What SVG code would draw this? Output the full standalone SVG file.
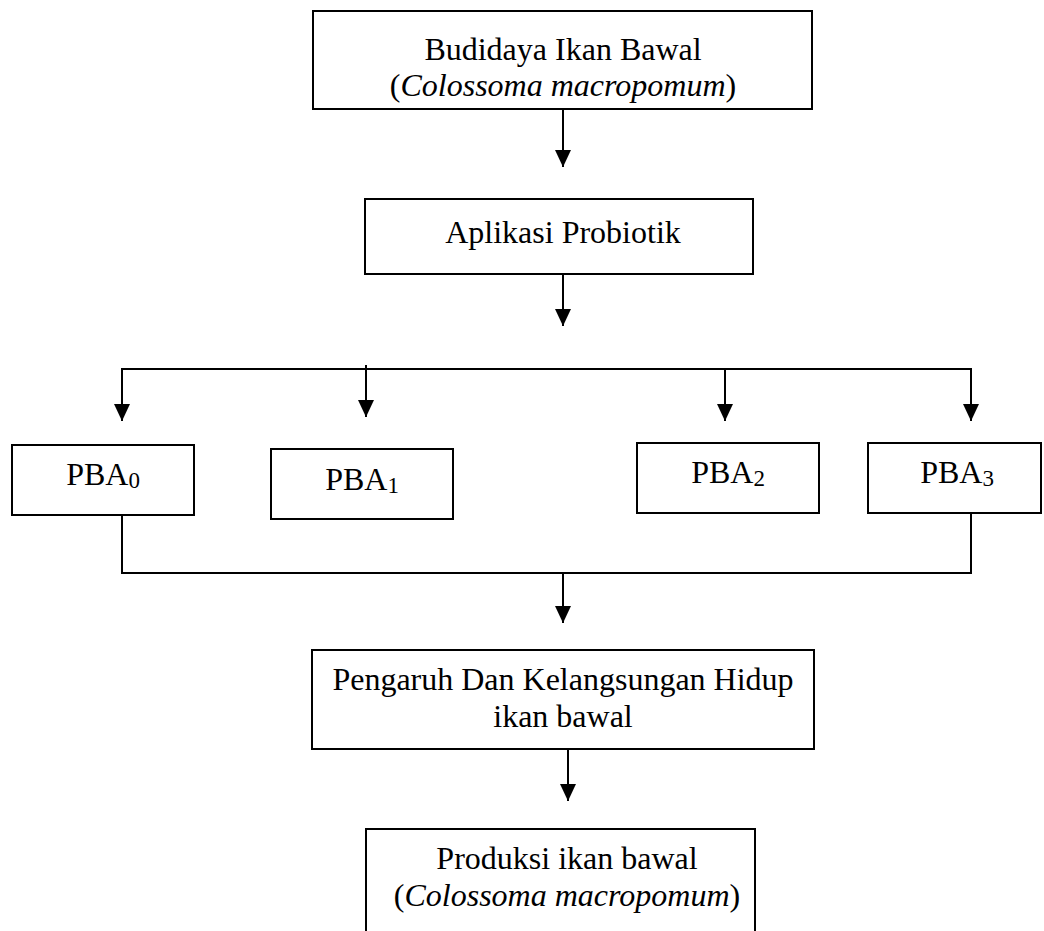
<svg xmlns="http://www.w3.org/2000/svg" width="1044" height="931" viewBox="0 0 1044 931">
<style>
.box{fill:#fff;stroke:#000;stroke-width:2}
.ln{fill:none;stroke:#000;stroke-width:2}
.t{font-family:"Liberation Serif","Times New Roman",serif;font-size:32px;fill:#000;text-anchor:middle}
.i{font-style:italic}
.sub{font-size:23px}
</style>
<defs>
<marker id="ah" markerUnits="userSpaceOnUse" markerWidth="17" markerHeight="16" viewBox="0 0 17 16" refX="17" refY="8" orient="auto">
<path d="M0,0 L17,8 L0,16 z" fill="#000"/>
</marker>
</defs>
<rect width="1044" height="931" fill="#fff"/>
<g id="connectors">
<line class="ln" x1="563" y1="110" x2="563" y2="167" marker-end="url(#ah)"/>
<line class="ln" x1="563" y1="274" x2="563" y2="326" marker-end="url(#ah)"/>
<line class="ln" x1="121" y1="369" x2="972" y2="369"/>
<line class="ln" x1="122" y1="369" x2="122" y2="421" marker-end="url(#ah)"/>
<line class="ln" x1="366" y1="365" x2="366" y2="417" marker-end="url(#ah)"/>
<line class="ln" x1="725" y1="369" x2="725" y2="421" marker-end="url(#ah)"/>
<line class="ln" x1="971" y1="369" x2="971" y2="421" marker-end="url(#ah)"/>
<path class="ln" d="M122,513 V573 H971 V513"/>
<line class="ln" x1="563" y1="573" x2="563" y2="623" marker-end="url(#ah)"/>
<line class="ln" x1="568" y1="749" x2="568" y2="801" marker-end="url(#ah)"/>
</g>
<g id="budidaya">
<rect class="box" x="313" y="11" width="499" height="98"/>
<text class="t" x="563" y="60">Budidaya Ikan Bawal</text>
<text class="t" x="563" y="96">(<tspan class="i">Colossoma macropomum</tspan>)</text>
</g>
<g id="aplikasi">
<rect class="box" x="365" y="199" width="388" height="75"/>
<text class="t" x="563" y="243">Aplikasi Probiotik</text>
</g>
<g id="pba0">
<rect class="box" x="12" y="445" width="182" height="70"/>
<text class="t" x="103" y="485">PBA<tspan class="sub" dy="3">0</tspan></text>
</g>
<g id="pba1">
<rect class="box" x="271" y="449" width="182" height="70"/>
<text class="t" x="362" y="490">PBA<tspan class="sub" dy="3">1</tspan></text>
</g>
<g id="pba2">
<rect class="box" x="637" y="443" width="182" height="70"/>
<text class="t" x="728" y="483">PBA<tspan class="sub" dy="3">2</tspan></text>
</g>
<g id="pba3">
<rect class="box" x="868" y="443" width="173" height="70"/>
<text class="t" x="957" y="483">PBA<tspan class="sub" dy="3">3</tspan></text>
</g>
<g id="pengaruh">
<rect class="box" x="312" y="650" width="502" height="99"/>
<text class="t" x="563" y="690">Pengaruh Dan Kelangsungan Hidup</text>
<text class="t" x="563" y="727">ikan bawal</text>
</g>
<g id="produksi">
<path class="box" d="M366,940 V829 H755 V940"/>
<text class="t" x="567" y="869">Produksi ikan bawal</text>
<text class="t" x="567" y="906">(<tspan class="i">Colossoma macropomum</tspan>)</text>
</g>
</svg>
